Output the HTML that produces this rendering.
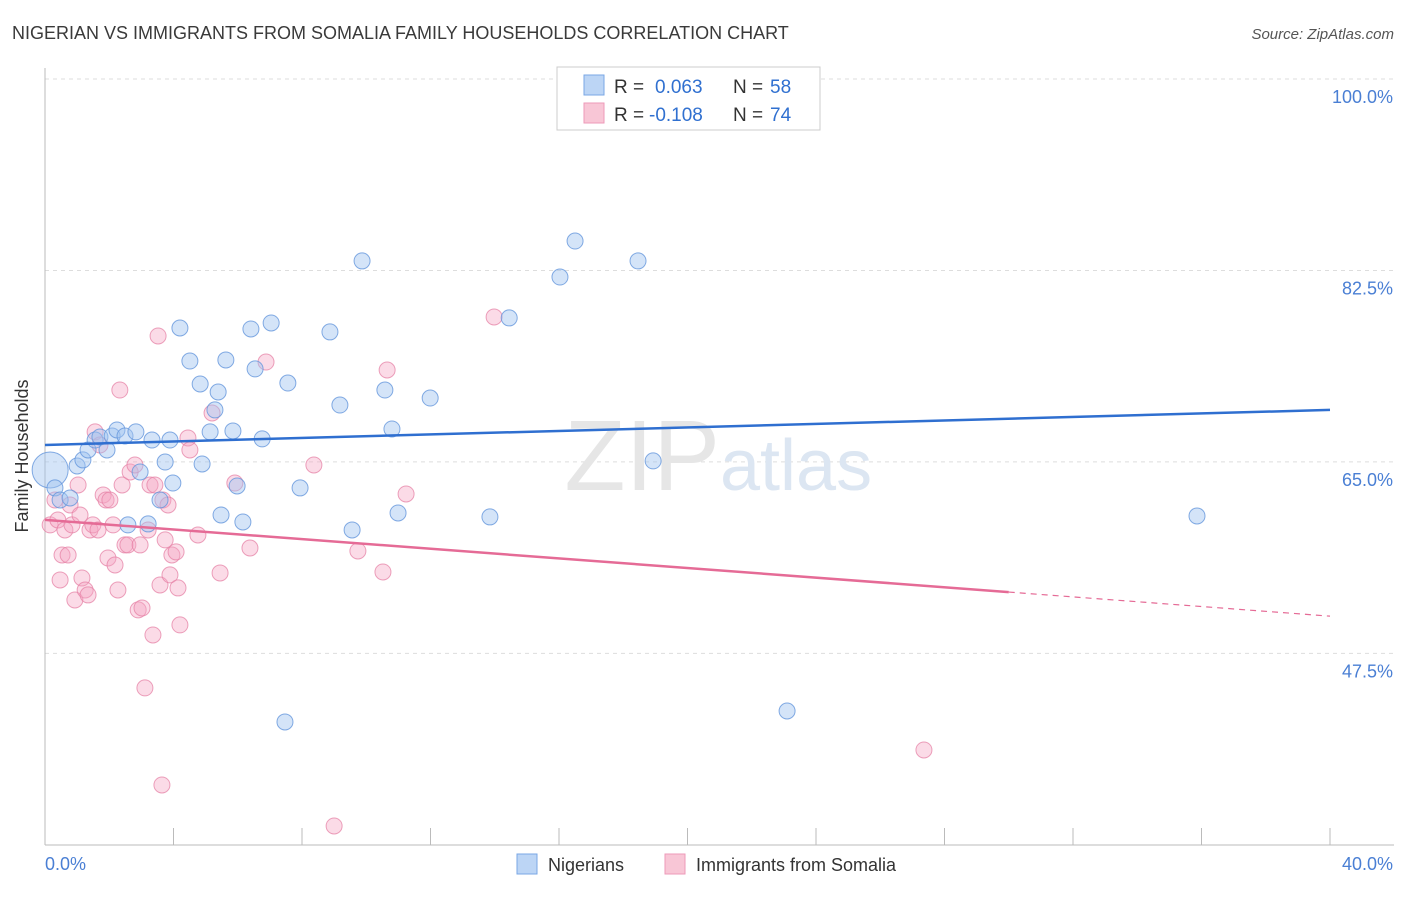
<!DOCTYPE html>
<html><head><meta charset="utf-8"><style>
body{margin:0;background:#fff;font-family:"Liberation Sans",sans-serif}
svg text{font-family:"Liberation Sans",sans-serif}
</style></head><body>
<svg id="chart" width="1406" height="892">
<text x="12" y="39" font-size="18" fill="#3a3a3a">NIGERIAN VS IMMIGRANTS FROM SOMALIA FAMILY HOUSEHOLDS CORRELATION CHART</text>
<text x="1394" y="39" font-size="15" fill="#555" text-anchor="end" font-style="italic">Source: ZipAtlas.com</text>
<g id="grid"></g>
<text x="720" y="490" font-size="100" fill="#e6e6e6" text-anchor="end" font-family="Liberation Serif">ZIP</text>
<text x="720" y="490" font-size="72" fill="#dce6f2">atlas</text>
<g id="pts"></g>
<g id="lines"></g>
<text transform="translate(34,456) rotate(-90)" font-size="18" fill="#333" text-anchor="middle" dy="0" x="0" y="0" style="transform:translate(28px,456px) rotate(-90deg)">Family Households</text>
<text x="45" y="870" font-size="18" fill="#4a7fd4">0.0%</text>
<text x="1393" y="870" font-size="18" fill="#4a7fd4" text-anchor="end">40.0%</text>
<g>
<rect x="557" y="67" width="263" height="63" fill="#fff" stroke="#ccc"/>
<rect x="584" y="75" width="20" height="20" fill="#bcd5f5" stroke="#7aa7e5"/>
<rect x="584" y="103" width="20" height="20" fill="#f8c6d6" stroke="#ee9ab8"/>
<text x="614" y="93" font-size="19" fill="#333">R =</text>
<text x="655" y="93" font-size="19" fill="#3070d0">0.063</text>
<text x="733" y="93" font-size="19" fill="#333">N =</text>
<text x="770" y="93" font-size="19" fill="#3070d0">58</text>
<text x="614" y="121" font-size="19" fill="#333">R =</text>
<text x="649" y="121" font-size="19" fill="#3070d0">-0.108</text>
<text x="733" y="121" font-size="19" fill="#333">N =</text>
<text x="770" y="121" font-size="19" fill="#3070d0">74</text>
</g>
<g>
<rect x="517" y="854" width="20" height="20" fill="#bcd5f5" stroke="#7aa7e5"/>
<text x="548" y="871" font-size="18" fill="#333">Nigerians</text>
<rect x="665" y="854" width="20" height="20" fill="#f8c6d6" stroke="#ee9ab8"/>
<text x="696" y="871" font-size="18" fill="#333">Immigrants from Somalia</text>
</g>
</svg>
<script>
const yTicks=[100,82.5,65,47.5];
const yTickLabels=["100.0%","82.5%","65.0%","47.5%"];
const xTicks=[0,4,8,12,16,20,24,28,32,36,40];
const blueX=[0.16,0.31,0.47,0.78,1.0,1.18,1.34,1.56,1.71,1.93,2.09,2.24,2.49,2.58,2.83,2.96,3.21,3.33,3.58,3.74,3.89,3.98,4.2,4.51,4.83,4.89,5.14,5.29,5.39,5.48,5.63,5.85,5.98,6.16,6.41,6.54,6.76,7.04,7.47,7.56,7.94,8.87,9.18,9.56,9.87,10.58,10.8,10.99,11.99,13.85,14.45,16.03,16.5,18.46,18.93,23.1,35.86];
const blueY=[64.26,62.62,61.52,61.7,64.63,65.18,66.09,67.0,67.28,66.09,67.37,67.92,67.37,59.24,67.74,64.08,59.33,67.0,61.52,64.99,67.0,63.07,77.24,74.22,72.12,64.81,67.74,69.75,71.39,60.15,74.32,67.83,62.8,59.51,77.15,73.5,67.1,77.7,41.23,72.21,62.62,76.88,70.2,58.78,83.37,71.57,68.01,60.33,70.84,59.97,78.16,81.9,85.19,83.37,65.09,42.23,60.06];
const pinkX=[0.16,0.31,0.4,0.47,0.53,0.62,0.72,0.78,0.84,0.93,1.03,1.09,1.15,1.25,1.34,1.4,1.49,1.56,1.65,1.71,1.81,1.9,1.96,2.02,2.12,2.18,2.27,2.33,2.4,2.49,2.58,2.65,2.8,2.9,2.96,3.02,3.11,3.21,3.27,3.36,3.42,3.52,3.58,3.64,3.67,3.74,3.83,3.89,3.95,4.08,4.14,4.2,4.45,4.51,4.76,5.2,5.45,5.91,6.38,6.88,8.37,9.0,9.74,10.52,10.65,11.24,13.98,27.36];
const pinkY=[59.24,61.52,59.69,54.21,56.49,58.78,56.49,61.06,59.24,52.38,62.89,60.15,54.39,53.29,52.84,58.78,59.24,67.74,58.78,66.55,61.98,61.52,56.22,61.52,59.24,55.58,53.29,71.57,62.89,57.41,57.41,64.08,64.72,51.47,57.41,51.65,44.34,58.78,62.89,49.18,62.89,76.51,53.75,35.47,61.52,57.87,61.06,54.67,56.49,56.77,53.48,50.1,67.19,66.09,58.32,69.47,54.85,63.07,57.13,74.13,64.72,31.72,56.86,54.94,73.4,62.07,78.25,38.67];
const blueTrend=[66.55,69.75];
const pinkTrend=[59.7,50.9];
const pinkSolidEnd=30;
const sx=v=>45+v/40*1285;
const sy=v=>79+(100-v)*10.94;
const NS="http://www.w3.org/2000/svg";
function mk(tag,attrs,parent){const e=document.createElementNS(NS,tag);for(const k in attrs)e.setAttribute(k,attrs[k]);parent.appendChild(e);return e;}
const grid=document.getElementById('grid');
yTicks.forEach((t,i)=>{
 const l=mk('line',{x1:45,x2:1394,y1:sy(t),y2:sy(t),stroke:'#ddd','stroke-dasharray':'4,4'},grid);
 
 
 const tx=mk('text',{x:1393,y:sy(t)+24,'font-size':18,fill:'#4a7fd4','text-anchor':'end'},grid);
 tx.textContent=yTickLabels[i];
 
 
});
const ax=mk('line',{x1:45,x2:1394,y1:845,y2:845,stroke:'#bbb'},grid);


const ay=mk('line',{x1:45,x2:45,y1:68,y2:845,stroke:'#bbb'},grid);


xTicks.forEach(t=>{
 const l=mk('line',{x1:sx(t),x2:sx(t),y1:828,y2:845,stroke:'#bbb'},grid);
 
 
});
const pts=document.getElementById('pts');
pinkX.forEach((x,i)=>{
 const c=mk('circle',{cx:sx(x),cy:sy(pinkY[i]),r:8,fill:'rgba(244,165,195,0.4)',stroke:'rgba(230,130,165,0.75)','stroke-width':1},pts);
 
 
});
blueX.forEach((x,i)=>{
 const c=mk('circle',{cx:sx(x),cy:sy(blueY[i]),r:i==0?18:8,fill:'rgba(160,195,240,0.45)',stroke:'rgba(100,150,220,0.8)','stroke-width':1},pts);
 
 
});
const lines=document.getElementById('lines');
const bl=mk('line',{x1:sx(0),y1:sy(blueTrend[0]),x2:sx(40),y2:sy(blueTrend[1]),stroke:'#2f6fd0','stroke-width':2.5},lines);


const pm=pinkTrend[0]+(pinkTrend[1]-pinkTrend[0])*pinkSolidEnd/40;
const pl=mk('line',{x1:sx(0),y1:sy(pinkTrend[0]),x2:sx(pinkSolidEnd),y2:sy(pm),stroke:'#e56b96','stroke-width':2.5},lines);


const pd=mk('line',{x1:sx(pinkSolidEnd),y1:sy(pm),x2:sx(40),y2:sy(pinkTrend[1]),stroke:'#e56b96','stroke-width':1.2,'stroke-dasharray':'6,5'},lines);


</script>
</body></html>
